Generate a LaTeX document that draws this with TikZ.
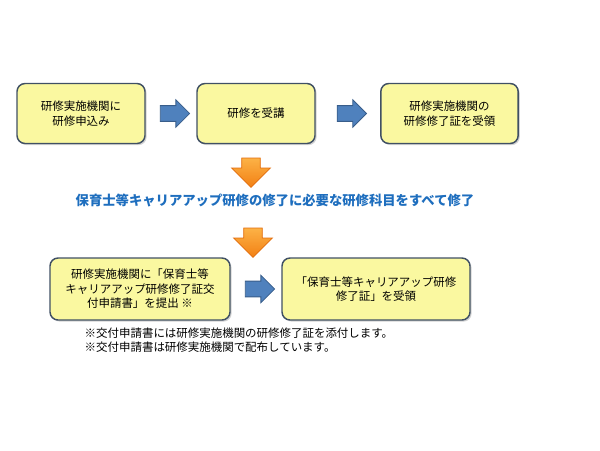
\documentclass[tikz,border=0pt]{standalone}
\usepackage{fontspec}
\setmainfont{Noto Sans CJK JP}
\usepackage{tikz}
\usetikzlibrary{calc,shadows,shapes.arrows}

\definecolor{boxfill}{RGB}{250,248,160}
\definecolor{boxline}{RGB}{64,80,100}
\definecolor{rarrfill}{RGB}{79,129,189}
\definecolor{rarrline}{RGB}{56,93,138}
\definecolor{darrtop}{RGB}{252,178,70}
\definecolor{darrbot}{RGB}{242,128,20}
\definecolor{darrline}{RGB}{226,108,10}
\definecolor{goalblue}{RGB}{30,110,190}

\begin{document}
\begin{tikzpicture}[
  x=0.75pt, y=-0.75pt,
  font=\fontsize{8.6}{10.9}\selectfont,
  stepbox/.style={draw=boxline, fill=boxfill, line width=1.1pt, rounded corners=6pt, align=center, inner sep=0pt,
    drop shadow={shadow xshift=1.2pt, shadow yshift=-1.2pt, opacity=0.35}},
  rarr/.style={single arrow, draw=rarrline, fill=rarrfill, line width=0.6pt, inner sep=5.6pt,
    minimum height=22pt, single arrow head extend=4.4pt},
  darr/.style={single arrow, shape border rotate=270, draw=darrline, top color=darrtop, bottom color=darrbot,
    line width=0.6pt, inner sep=6.7pt, minimum height=22pt, single arrow head extend=7.5pt},
  goal/.style={text=goalblue, font=\fontsize{10}{12}\selectfont\bfseries},
  note/.style={align=left, font=\fontsize{8.6}{10.5}\selectfont}
]
\useasboundingbox (0,0) rectangle (600,450);
\node[stepbox, minimum width=96pt, minimum height=45pt] (apply) at (81,113.5) {研修実施機関に\\研修申込み};
\node[stepbox, minimum width=88.5pt, minimum height=45pt] (attend) at (256,113.5) {研修を受講};
\node[stepbox, minimum width=103pt, minimum height=45pt] (cert) at (449.5,113.5) {研修実施機関の\\研修修了証を受領};
\node[rarr] (a1) at ($(apply.east)!0.5!(attend.west)$) {};
\node[rarr] (a2) at ($(attend.east)!0.5!(cert.west)$) {};
\node[darr] (d1) at (251,168) {};
\node[goal] (done) at (275,200) {保育士等キャリアアップ研修の修了に必要な研修科目をすべて修了};
\node[darr] (d2) at (253,238) {};
\node[stepbox, minimum width=135pt, minimum height=46.5pt] (submit) at (140,289) {研修実施機関に「保育士等\\キャリアアップ研修修了証交\\付申請書」を提出 ※};
\node[stepbox, minimum width=141pt, minimum height=46.5pt] (receive) at (376,289) {「保育士等キャリアアップ研修\\修了証」を受領};
\node[rarr] (a3) at ($(submit.east)!0.5!(receive.west)$) {};
\node[note, anchor=west] (notes) at (80,340) {※交付申請書には研修実施機関の研修修了証を添付します。\\※交付申請書は研修実施機関で配布しています。};
\end{tikzpicture}
\end{document}
